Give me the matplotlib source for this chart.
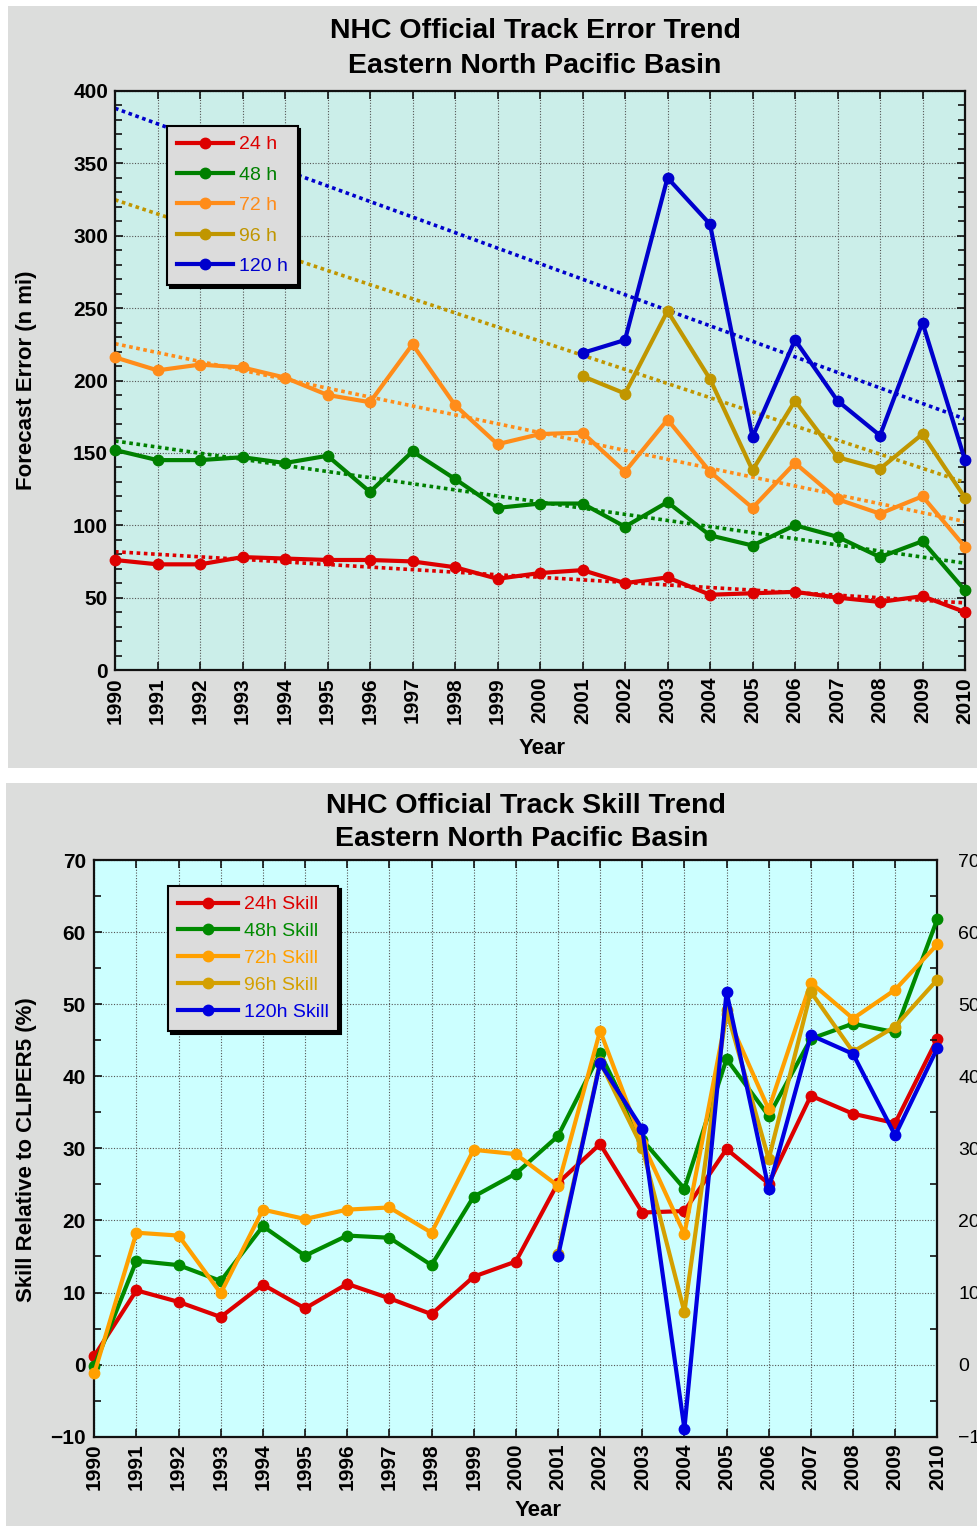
import numpy as np
import matplotlib
matplotlib.use("Agg")
import matplotlib.pyplot as plt
from matplotlib.patches import Rectangle
from matplotlib.ticker import MultipleLocator

# ---------------- data ----------------
years = list(range(1990, 2011))
years_late = list(range(2001, 2011))

err_24 = [76, 73, 73, 78, 77, 76, 76, 75, 71, 63, 67, 69, 60, 64, 52, 53, 54, 50, 47, 51, 40]
err_48 = [152, 145, 145, 147, 143, 148, 123, 151, 132, 112, 115, 115, 99, 116, 93, 86, 100, 92, 78, 89, 55]
err_72 = [216, 207, 211, 209, 202, 190, 185, 225, 183, 156, 163, 164, 137, 173, 137, 112, 143, 118, 108, 120, 85]
err_96 = [203, 191, 248, 201, 138, 186, 147, 139, 163, 119]
err_120 = [219, 228, 340, 308, 161, 228, 186, 162, 240, 145]

skill_24 = [1.2, 10.3, 8.7, 6.6, 11.1, 7.8, 11.2, 9.2, 7.0, 12.2, 14.3, 25.2, 30.6, 21.1, 21.3, 29.9, 25.1, 37.3, 34.8, 33.5, 45.2]
skill_48 = [-0.2, 14.4, 13.8, 11.6, 19.2, 15.1, 17.9, 17.6, 13.8, 23.3, 26.5, 31.7, 43.2, 31.2, 24.4, 42.4, 34.5, 45.2, 47.3, 46.1, 61.8]
skill_72 = [-1.2, 18.3, 17.9, 9.9, 21.5, 20.2, 21.5, 21.8, 18.3, 29.8, 29.2, 24.8, 46.3, 30.8, 18.1, 48.6, 35.4, 53.0, 48.0, 52.0, 58.3]
skill_96 = [15.4, 42.0, 30.1, 7.3, 49.2, 28.5, 51.7, 43.4, 46.9, 53.4]
skill_120 = [15.0, 41.8, 32.7, -8.9, 51.7, 24.4, 45.7, 43.1, 31.8, 43.9]

err_labels = ["24 h", "48 h", "72 h", "96 h", "120 h"]
skill_labels = ["24h Skill", "48h Skill", "72h Skill", "96h Skill", "120h Skill"]
year_labels = [str(y) for y in years]

# ---------------- style ----------------
FONT = "Liberation Sans"
plt.rcParams["font.family"] = [FONT, "DejaVu Sans"]

top_colors = ["#dd0000", "#008000", "#ff8c1a", "#c09600", "#0000cc"]
bot_colors = ["#dd0000", "#008a00", "#ffa000", "#d4a000", "#0000e0"]
panel_gray = "#dcdddc"

W, H = 977, 1526
fig = plt.figure(figsize=(W / 100, H / 100), dpi=100, facecolor="white")

def fx(px):
    return px / W

def fy(py):
    return 1 - py / H

# background panels
fig.add_artist(Rectangle((fx(8), fy(768)), fx(977) - fx(8), fy(6) - fy(768),
                         transform=fig.transFigure, facecolor=panel_gray,
                         edgecolor="none", zorder=-10))
fig.add_artist(Rectangle((fx(6), fy(1526)), fx(977) - fx(6), fy(783) - fy(1526),
                         transform=fig.transFigure, facecolor=panel_gray,
                         edgecolor="none", zorder=-10))

grid_kw = dict(color="#555555", linestyle=(0, (1, 1.5)), linewidth=0.8)

def style_axes(ax, bg):
    ax.set_facecolor(bg)
    for s in ax.spines.values():
        s.set_linewidth(1.6)
        s.set_color("#111111")
    ax.set_xlim(1990, 2010)
    ax.set_xticks(years)
    ax.set_xticklabels(year_labels, rotation=90, fontsize=15, fontweight="bold",
                       family=FONT)
    ax.tick_params(axis="x", which="major", direction="in", length=6, top=True,
                   pad=5, width=1.2, colors="#111111", labelcolor="black")
    ax.grid(True, which="major", **grid_kw)
    ax.set_axisbelow(True)

# ================= TOP CHART =================
ax1 = fig.add_axes([fx(115), fy(670), fx(965) - fx(115), fy(91) - fy(670)])
style_axes(ax1, "#cbeee9")
ax1.set_ylim(0, 400)
ax1.yaxis.set_major_locator(MultipleLocator(50))
ax1.yaxis.set_minor_locator(MultipleLocator(10))
ax1.tick_params(axis="y", which="both", direction="in", right=True, pad=5,
                width=1.2, colors="#111111", labelcolor="black")
ax1.tick_params(axis="y", which="major", length=6)
ax1.tick_params(axis="y", which="minor", length=5)
for lbl in ax1.get_yticklabels():
    lbl.set_fontsize(15)
    lbl.set_fontweight("bold")

series_top = [(years, err_24), (years, err_48), (years, err_72),
              (years_late, err_96), (years_late, err_120)]
xfull = np.array(years, dtype=float)
# trend lines (linear least-squares fits of each series, drawn across full period)
for (xs, ys), c in zip(series_top, top_colors):
    coef = np.polyfit(np.array(xs, float), np.array(ys, float), 1)
    ax1.plot(xfull, np.polyval(coef, xfull), color=c, linewidth=2.6,
             linestyle=(0, (1, 1)), zorder=2)
top_handles = []
for (xs, ys), c, lab in zip(series_top, top_colors, err_labels):
    h, = ax1.plot(xs, ys, color=c, linewidth=3, marker="o", markersize=7.5,
                  label=lab, clip_on=False, zorder=3)
    top_handles.append(h)

leg1 = ax1.legend(handles=top_handles, loc="upper left",
                  bbox_to_anchor=((167 - 115) / 850, (670 - 126) / 579),
                  borderaxespad=0, fancybox=False, framealpha=1,
                  facecolor="#dcdcdc", edgecolor="black",
                  shadow={"color": "black", "alpha": 1},
                  prop={"family": FONT, "size": 14},
                  labelcolor="linecolor", handlelength=2.9, handletextpad=0.3,
                  labelspacing=0.66, borderpad=0.5)
leg1.get_frame().set_linewidth(1.5)
leg1.set_zorder(10)

fig.text(fx(535), fy(31), "NHC Official Track Error Trend", ha="center",
         va="center", fontsize=20.5, fontweight="bold", family=FONT)
fig.text(fx(535), fy(66), "Eastern North Pacific Basin", ha="center",
         va="center", fontsize=20.5, fontweight="bold", family=FONT)
fig.text(fx(27), fy(380), "Forecast Error (n mi)", ha="center", va="center",
         rotation=90, fontsize=16, fontweight="bold", family=FONT)
fig.text(fx(542), fy(748), "Year", ha="center", va="center",
         fontsize=16, fontweight="bold", family=FONT)

# ================= BOTTOM CHART =================
ax2 = fig.add_axes([fx(94.3), fy(1436.7), fx(937.3) - fx(94.3), fy(860) - fy(1436.7)])
style_axes(ax2, "#ccffff")
ax2.set_ylim(-10, 70)
ax2.yaxis.set_major_locator(MultipleLocator(10))
ax2.yaxis.set_minor_locator(MultipleLocator(5))
ax2.tick_params(axis="y", which="both", direction="in", right=True, pad=6,
                width=1.2, colors="#111111", labelcolor="black")
ax2.tick_params(axis="y", which="major", length=6)
ax2.tick_params(axis="y", which="minor", length=5)
for lbl in ax2.get_yticklabels():
    lbl.set_fontsize(15)
    lbl.set_fontweight("bold")

ax2r = ax2.twinx()
ax2r.set_ylim(-10, 70)
ax2r.yaxis.set_major_locator(MultipleLocator(10))
ax2r.yaxis.set_minor_locator(MultipleLocator(5))
ax2r.tick_params(axis="y", which="both", direction="in", pad=15, width=1.2,
                 colors="#111111", labelcolor="black")
ax2r.tick_params(axis="y", which="major", length=0)
ax2r.tick_params(axis="y", which="minor", length=5)
for lbl in ax2r.get_yticklabels():
    lbl.set_fontsize(14)
    lbl.set_fontweight("normal")
for s in ax2r.spines.values():
    s.set_visible(False)

series_bot = [(years, skill_24), (years, skill_48), (years, skill_72),
              (years_late, skill_96), (years_late, skill_120)]
bot_handles = []
for (xs, ys), c, lab in zip(series_bot, bot_colors, skill_labels):
    h, = ax2.plot(xs, ys, color=c, linewidth=3, marker="o", markersize=7.5,
                  label=lab, clip_on=False, zorder=3)
    bot_handles.append(h)

leg2 = ax2.legend(handles=bot_handles, loc="upper left",
                  bbox_to_anchor=((168 - 94.3) / 843, (1436.7 - 886) / 576.7),
                  borderaxespad=0, fancybox=False, framealpha=1,
                  facecolor="#dcdcdc", edgecolor="black",
                  shadow={"color": "black", "alpha": 1},
                  prop={"family": FONT, "size": 14},
                  labelcolor="linecolor", handlelength=3.1, handletextpad=0.3,
                  labelspacing=0.48, borderpad=0.5)
leg2.get_frame().set_linewidth(1.5)
leg2.set_zorder(10)

fig.text(fx(526), fy(806), "NHC Official Track Skill Trend", ha="center",
         va="center", fontsize=20.5, fontweight="bold", family=FONT)
fig.text(fx(522), fy(839), "Eastern North Pacific Basin", ha="center",
         va="center", fontsize=20.5, fontweight="bold", family=FONT)
fig.text(fx(27), fy(1150), "Skill Relative to CLIPER5 (%)", ha="center",
         va="center", rotation=90, fontsize=16, fontweight="bold", family=FONT)
fig.text(fx(538), fy(1511), "Year", ha="center", va="center",
         fontsize=16, fontweight="bold", family=FONT)

fig.savefig("out.png", dpi=100, facecolor="white")
